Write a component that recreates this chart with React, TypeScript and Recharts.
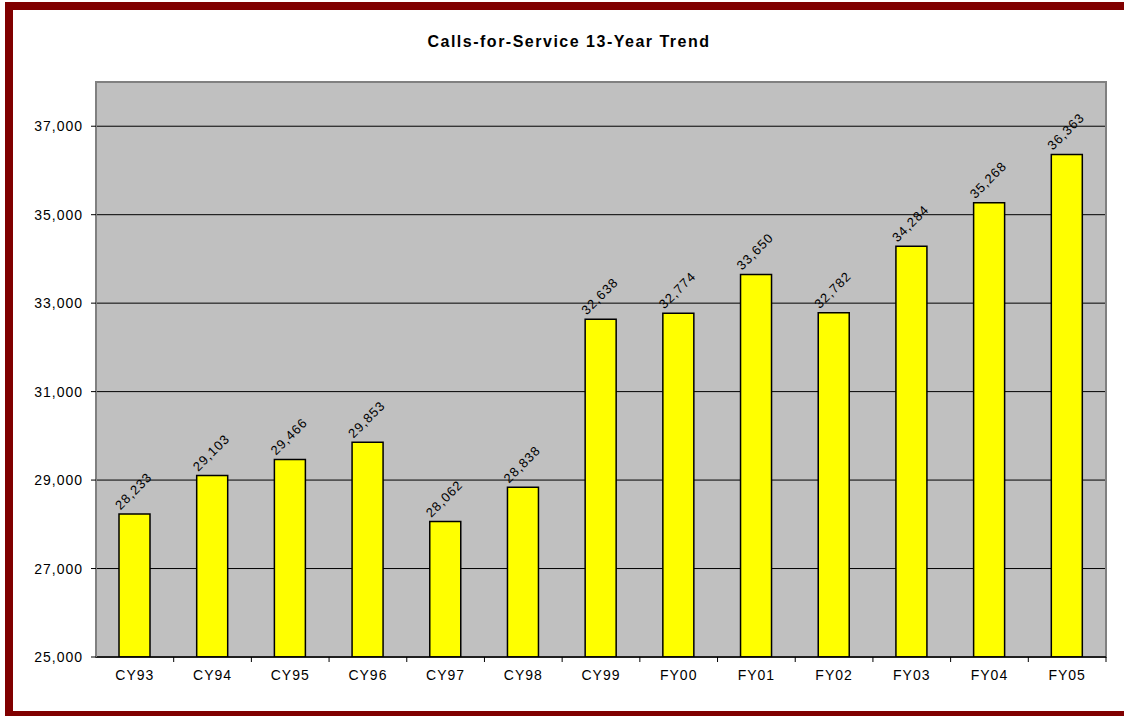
import { Bar, BarChart, CartesianGrid, LabelList, ReferenceArea, XAxis, YAxis } from "recharts";

const years = ["CY93", "CY94", "CY95", "CY96", "CY97", "CY98", "CY99", "FY00", "FY01", "FY02", "FY03", "FY04", "FY05"];
const calls = [28233, 29103, 29466, 29853, 28062, 28838, 32638, 32774, 33650, 32782, 34284, 35268, 36363];
const yTicks = [25000, 27000, 29000, 31000, 33000, 35000, 37000];

const data = years.map((year, i) => ({ year, calls: calls[i] }));

const W = 1124;
const H = 716;
const PLOT_LEFT = 96;
const PLOT_RIGHT = 1106;
const PLOT_BOTTOM = 657;
const BAND = (PLOT_RIGHT - PLOT_LEFT) / years.length;
const FONT = '"Liberation Sans", Arial, sans-serif';
const RED = "#800000";

const fmt = (v: number) => v.toLocaleString("en-US");

function XTick(props: any) {
  const { x, payload, index } = props;
  const left = x - BAND / 2;
  return (
    <g>
      {index > 0 && <line x1={left} x2={left} y1={PLOT_BOTTOM} y2={PLOT_BOTTOM + 5} stroke="#000" />}
      {index === years.length - 1 && (
        <line x1={left + BAND} x2={left + BAND} y1={PLOT_BOTTOM} y2={PLOT_BOTTOM + 5} stroke="#000" />
      )}
      <text x={x} y={PLOT_BOTTOM + 23} textAnchor="middle" fill="#000" fontSize={14} letterSpacing={1} fontFamily={FONT}>
        {payload.value}
      </text>
    </g>
  );
}

function BarValue(props: any) {
  const { x, y, width, value } = props;
  const cx = x + width / 2 - 1;
  const cy = y - 23;
  return (
    <text
      x={cx}
      y={cy}
      dy="0.35em"
      textAnchor="middle"
      fill="#000"
      fontSize={13}
      letterSpacing={1}
      fontFamily={FONT}
      transform={`rotate(-45 ${cx} ${cy})`}
    >
      {fmt(value)}
    </text>
  );
}

export default function App() {
  return (
    <div style={{ position: "fixed", left: 0, top: 0, width: W, height: H, background: "#fff", fontFamily: FONT }}>
      <div style={{ position: "absolute", left: 0, top: 0 }}>
        <BarChart width={W} height={H} data={data} margin={{ top: 82, right: 18, bottom: 29, left: 0 }} barSize={31}>
          <CartesianGrid vertical={false} fill="#c0c0c0" stroke="#000" strokeOpacity={1} />
          <ReferenceArea y1={25000} y2={38000} fill="none" stroke="#808080" strokeWidth={2} ifOverflow="visible" />
          <XAxis
            dataKey="year"
            height={30}
            interval={0}
            tickLine={false}
            axisLine={{ stroke: "#000", strokeWidth: 1.5 }}
            tick={<XTick />}
          />
          <YAxis
            width={96}
            domain={[25000, 38000]}
            ticks={yTicks}
            tickFormatter={fmt}
            allowDataOverflow
            axisLine={{ stroke: "#808080", strokeWidth: 2 }}
            tickLine={{ stroke: "#000" }}
            tickSize={5}
            tickMargin={8}
            tick={{ fill: "#000", fontSize: 14, letterSpacing: 1, fontFamily: FONT }}
          />
          <Bar dataKey="calls" fill="#ffff00" stroke="#000" strokeWidth={1.5} isAnimationActive={false}>
            <LabelList dataKey="calls" content={<BarValue />} />
          </Bar>
        </BarChart>
      </div>
      <div
        style={{
          position: "absolute",
          left: 269,
          top: 33,
          width: 600,
          textAlign: "center",
          fontWeight: "bold",
          fontSize: 16,
          letterSpacing: 1.5,
          color: "#000",
        }}
      >
        Calls-for-Service 13-Year Trend
      </div>
      <div style={{ position: "absolute", zIndex: 5, left: 5, top: 2, width: 8, height: H - 2, background: RED }} />
      <div style={{ position: "absolute", zIndex: 5, left: 5, top: 2, width: W - 5, height: 8, background: RED }} />
      <div style={{ position: "absolute", zIndex: 5, left: 5, top: 711, width: W - 5, height: 5, background: RED }} />
    </div>
  );
}
